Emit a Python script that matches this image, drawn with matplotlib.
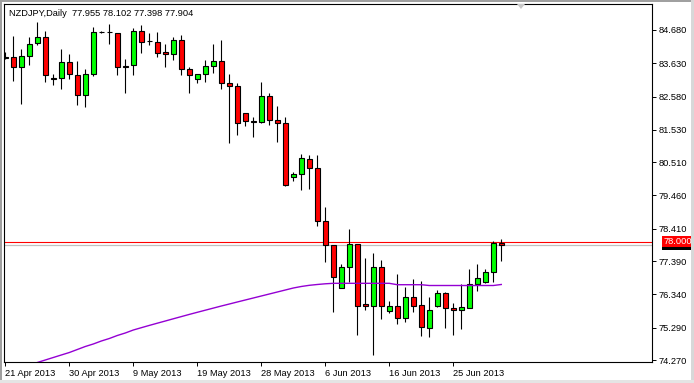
import numpy as np
import matplotlib
matplotlib.use("Agg")
import matplotlib.pyplot as plt
import matplotlib.patches as patches

W, H = 694, 383

symbol_title = "NZDJPY,Daily  77.955 78.102 77.398 77.904"

# daily OHLC, oldest first
opens = [83.828, 83.819, 83.503, 83.860, 84.260, 84.450, 83.144, 83.156, 83.661, 83.251,
         82.620, 83.282, 84.607, 84.601, 84.576, 83.522, 83.566, 84.658, 84.333, 84.311,
         83.986, 83.913, 84.355, 83.440, 83.125, 83.282, 83.535, 83.693, 82.999, 82.904,
         82.052, 81.787, 81.768, 82.588, 81.831, 81.737, 80.033, 80.128, 80.626, 80.317,
         78.645, 77.888, 76.532, 77.194, 77.920, 76.027, 75.958, 77.194, 75.831, 75.964,
         75.585, 76.248, 75.995, 75.295, 75.983, 76.374, 75.910, 75.838, 75.920, 76.658,
         76.721, 77.036, 77.955]
highs = [83.986, 84.491, 84.071, 84.469, 84.923, 84.639, 83.282, 84.071, 83.932, 83.693,
         83.459, 84.765, 84.658, 84.869, 84.576, 83.756, 84.734, 84.828, 84.576, 84.607,
         84.229, 84.450, 84.513, 83.503, 83.282, 83.734, 84.238, 84.365, 83.282, 82.999,
         82.052, 81.926, 83.030, 82.683, 82.273, 81.926, 80.191, 80.759, 80.737, 80.737,
         79.087, 77.888, 77.298, 78.393, 77.920, 77.488, 77.645, 77.424, 76.131, 76.983,
         76.582, 76.815, 76.771, 76.257, 76.478, 76.406, 76.058, 76.667, 77.141, 77.298,
         77.131, 78.033, 78.102]
lows = [83.765, 83.081, 82.346, 83.576, 84.207, 83.049, 82.936, 82.828, 83.144, 82.324,
        82.241, 83.238, 84.576, 84.238, 83.270, 82.683, 83.270, 83.964, 84.207, 83.838,
        83.522, 83.734, 83.270, 82.702, 83.018, 83.055, 83.333, 82.809, 81.125, 81.377,
        81.661, 81.314, 81.737, 81.693, 81.137, 79.768, 79.926, 79.617, 79.664, 78.506,
        77.371, 75.794, 76.532, 76.740, 75.068, 75.863, 74.443, 75.579, 75.762, 75.405,
        75.478, 75.784, 75.033, 75.011, 75.942, 75.289, 75.049, 75.257, 75.901, 76.456,
        76.708, 76.740, 77.398]
closes = [83.812, 83.503, 83.860, 84.238, 84.450, 83.251, 83.140, 83.661, 83.292, 82.620,
          83.282, 84.607, 84.605, 84.598, 83.503, 83.520, 84.658, 84.292, 84.330, 83.964,
          83.913, 84.355, 83.440, 83.251, 83.282, 83.535, 83.693, 82.999, 82.904, 81.737,
          81.800, 81.785, 82.588, 81.831, 81.737, 79.800, 80.128, 80.633, 80.317, 78.645,
          77.888, 76.879, 77.188, 77.920, 75.989, 75.958, 77.194, 75.989, 75.964, 75.585,
          76.248, 75.983, 75.301, 75.841, 76.374, 75.901, 75.838, 75.932, 76.658, 76.847,
          77.036, 77.951, 77.904]

# moving average
ma = [73.876, 73.954, 74.033, 74.112, 74.191, 74.270, 74.349, 74.428, 74.506, 74.601,
      74.696, 74.775, 74.869, 74.948, 75.043, 75.122, 75.216, 75.289, 75.361, 75.431,
      75.500, 75.570, 75.639, 75.708, 75.775, 75.841, 75.907, 75.973, 76.036, 76.100,
      76.163, 76.226, 76.289, 76.352, 76.415, 76.478, 76.541, 76.589, 76.626, 76.652,
      76.674, 76.689, 76.689, 76.689, 76.689, 76.689, 76.689, 76.689, 76.689, 76.645,
      76.645, 76.645, 76.645, 76.620, 76.620, 76.620, 76.620, 76.620, 76.620, 76.620,
      76.620, 76.620, 76.652]

price_ticks = [84.680, 83.630, 82.580, 81.530, 80.510, 79.460, 78.410, 77.390, 76.340, 75.290, 74.270]
date_ticks = [0, 8, 16, 24, 32, 40, 48, 56]
date_labels = ["21 Apr 2013", "30 Apr 2013", "9 May 2013", "19 May 2013",
               "28 May 2013", "6 Jun 2013", "16 Jun 2013", "25 Jun 2013"]
line_level = 78.000
bid = 77.904

plt.rcParams['font.family'] = ['Liberation Sans', 'DejaVu Sans']
fs = 6.7

fig = plt.figure(figsize=(W / 100, H / 100), dpi=100)
fig.patch.set_facecolor('white')
ax = fig.add_axes([4 / W, 21 / H, 648 / W, 358 / H])

o = np.array(opens)
c = np.array(closes)
x = np.arange(len(o))
up = c >= o

ax.vlines(x, lows, highs, color='black', lw=0.8, zorder=2)
body_h = np.where(np.abs(c - o) < 0.01, 0.01, c - o)
ax.bar(x[up], body_h[up], bottom=o[up], width=0.56, color='#00FF00',
       edgecolor='black', lw=0.8, zorder=3)
ax.bar(x[~up], body_h[~up], bottom=o[~up], width=0.56, color='#FF0000',
       edgecolor='black', lw=0.8, zorder=3)

ax.plot(x, ma, color='#9400D3', lw=1.0, zorder=4)

ax.axhline(bid, color='#C0C0C0', lw=0.9, zorder=1)
ax.axhline(line_level, color='#FF0000', lw=0.8, zorder=1)

ax.set_xlim(-0.1625, 80.84)
ax.set_ylim(74.207, 85.500)

ax.yaxis.tick_right()
ax.set_yticks(price_ticks)
ax.set_yticklabels([f"{v:.3f}" for v in price_ticks])
ax.set_xticks(date_ticks)
ax.set_xticklabels(date_labels)
for lab in ax.get_xticklabels():
    lab.set_ha('left')
ax.tick_params(axis='y', length=3, width=0.7, pad=2, labelsize=fs, colors='black')
ax.tick_params(axis='x', length=3, width=0.7, pad=2, labelsize=fs, colors='black')
for s in ax.spines.values():
    s.set_linewidth(0.8)
    s.set_color('black')


def px(xp, yp):
    return (xp / W, 1 - yp / H)


fig.text(*px(9, 13), symbol_title, fontsize=fs, va='center', ha='left', color='black')

# price labels on the right axis
fig.add_artist(patches.Rectangle(px(662, 250), 30 / W, 10 / H, transform=fig.transFigure,
                                 facecolor='black', edgecolor='none'))
fig.add_artist(patches.Rectangle(px(662, 246.5), 30 / W, 10.5 / H, transform=fig.transFigure,
                                 facecolor='#FF0000', edgecolor='none'))
fig.text(*px(664, 241.5), f"{line_level:.3f}", fontsize=fs, va='center', ha='left', color='white')

# chart shift marker
fig.add_artist(patches.Polygon([px(517, 4), px(525, 4), px(521, 9)], closed=True,
                               transform=fig.transFigure, facecolor='#C8C8C8', edgecolor='none'))

# window border
fig.add_artist(patches.Rectangle(px(0, 1.5), 1, 1.5 / H, transform=fig.transFigure,
                                 facecolor='#A0A0A0', edgecolor='none'))
fig.add_artist(patches.Rectangle(px(0, H), 1.5 / W, 1, transform=fig.transFigure,
                                 facecolor='#A0A0A0', edgecolor='none'))
fig.add_artist(patches.Rectangle(px(691, H), 3 / W, 1, transform=fig.transFigure,
                                 facecolor='#D8D8D8', edgecolor='none'))
fig.add_artist(patches.Rectangle(px(0, H), 1, 3 / H, transform=fig.transFigure,
                                 facecolor='#E4E4E4', edgecolor='none'))

fig.savefig('out.png', dpi=100)
